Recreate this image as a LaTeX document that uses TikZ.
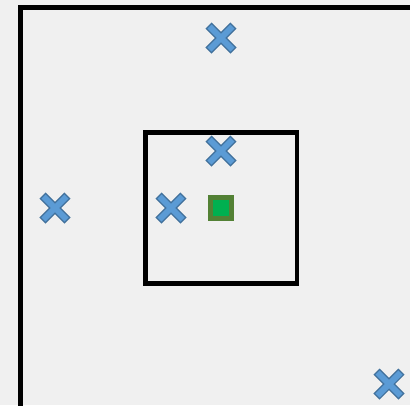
\documentclass[tikz,border=0pt]{standalone}
\definecolor{bg}{HTML}{F0F0F0}
\definecolor{xfill}{HTML}{5B9BD5}
\definecolor{xline}{HTML}{41719C}
\definecolor{gfill}{HTML}{00B050}
\definecolor{gline}{HTML}{538135}
\tikzset{
  frame/.style={draw=black, line width=4.5pt},
  xmark/.pic={
    \draw[xline, line width=8.5pt] (-12.5,-12.5) -- (12.5,12.5) (-12.5,12.5) -- (12.5,-12.5);
    \draw[xfill, line width=6pt] (-11.5,-11.5) -- (11.5,11.5) (-11.5,11.5) -- (11.5,-11.5);
  },
  gsq/.style={draw=gline, fill=gfill, line width=5pt, minimum size=21pt, inner sep=0pt}
}
\begin{document}
\begin{tikzpicture}[x=1pt, y=-1pt]
\fill[bg] (0,0) rectangle (410,405);
\useasboundingbox (0,0) rectangle (410,405);
\draw[frame] (20.5,420) -- (20.5,7.5) -- (420,7.5);
\node[frame, minimum width=151.5pt, minimum height=151pt, inner sep=0pt] (inner) at (221,208) {};
\node[gsq] (goal) at (221,208) {};
\pic at (221,38) {xmark};
\pic at (221,151) {xmark};
\pic at (55,208) {xmark};
\pic at (171,208) {xmark};
\pic at (389,384) {xmark};
\end{tikzpicture}
\end{document}
